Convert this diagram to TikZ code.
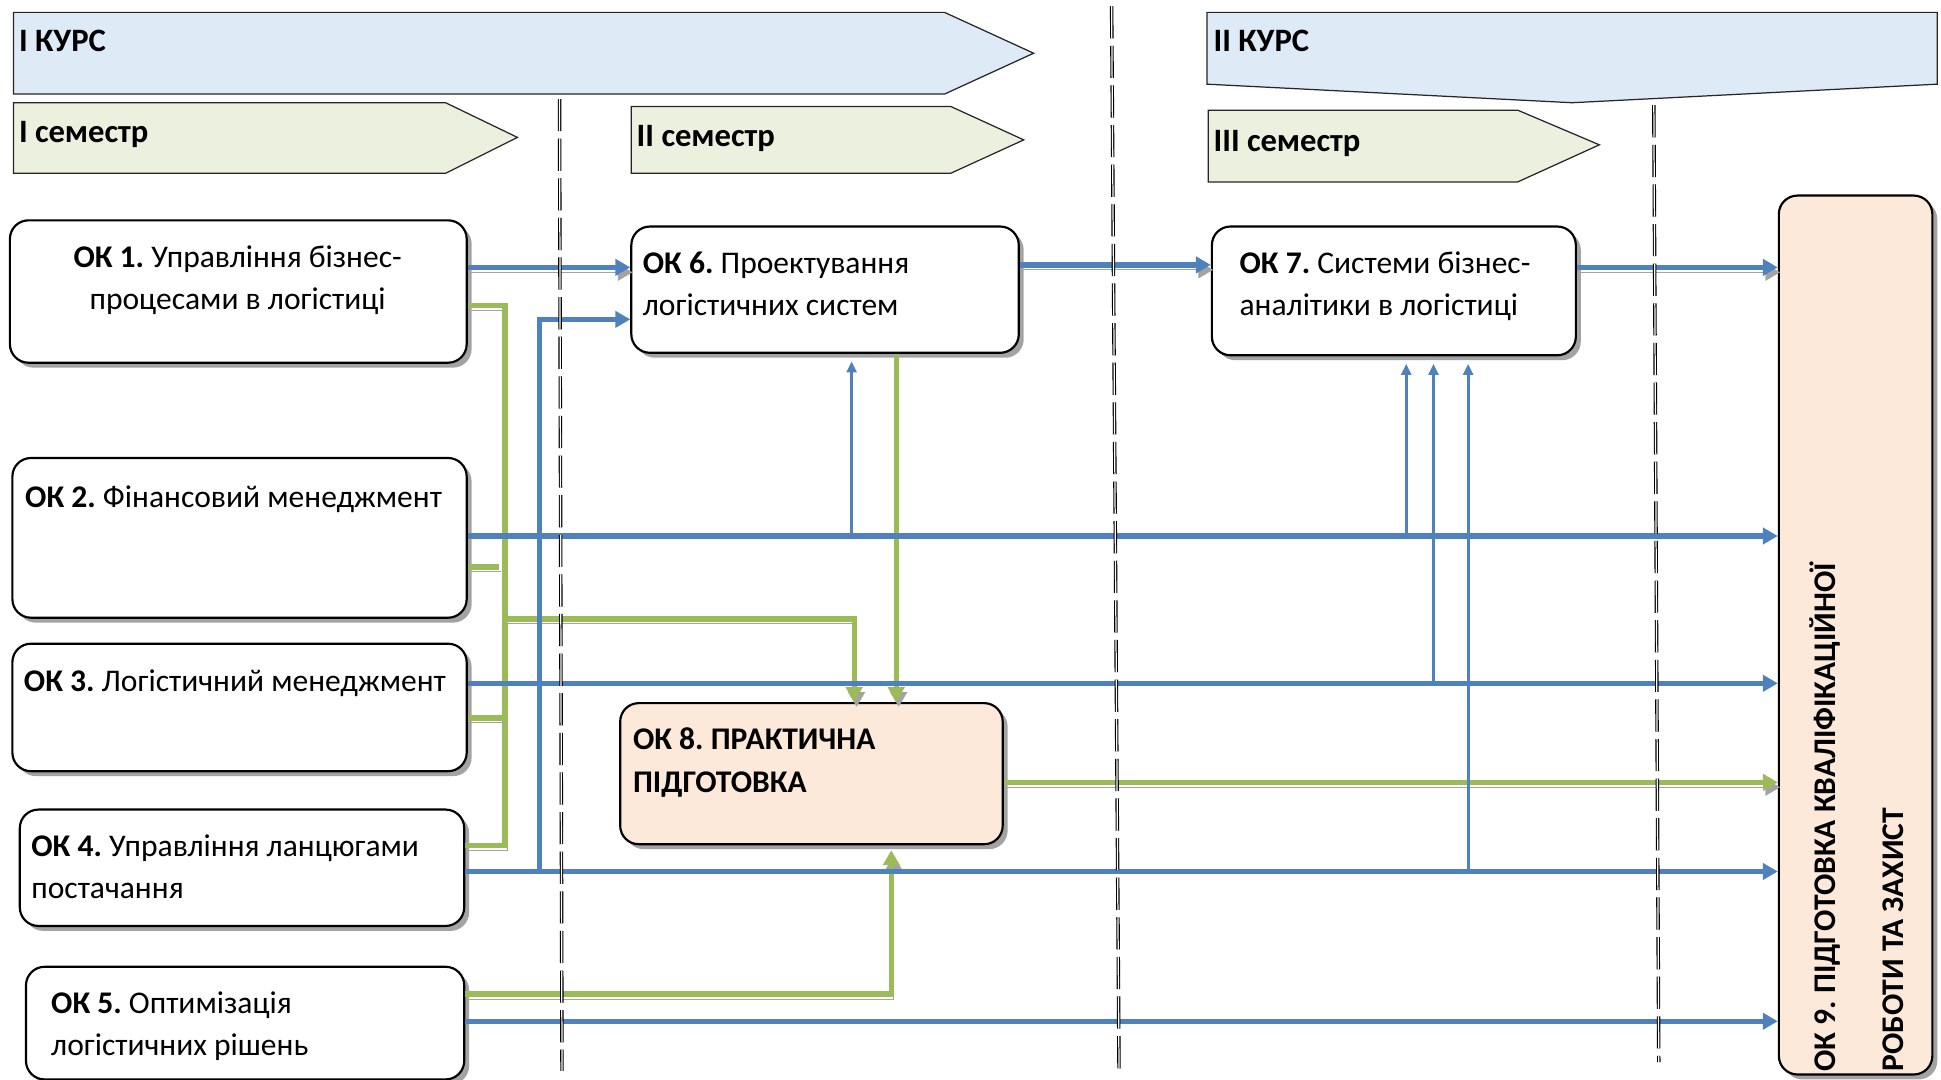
\documentclass[tikz,border=0pt]{standalone}
\usepackage{fontspec}
\setmainfont{Carlito}
\usepackage{tikz}
\usetikzlibrary{positioning, arrows.meta, shadows, fit}

\definecolor{lineblue}{HTML}{4F81BD}
\definecolor{linegreen}{HTML}{9BBB59}
\definecolor{kursfill}{HTML}{DEEAF6}
\definecolor{semfill}{HTML}{EBF1DE}
\definecolor{okfill}{HTML}{FDE9D9}
\definecolor{shadowgray}{HTML}{A3A3A3}

\begin{document}
\frenchspacing
\begin{tikzpicture}[
    x=0.2mm, y=-0.2mm,
    font=\fontsize{14.5}{19.5}\selectfont,
    banner/.style={draw=black!85, line width=0.2mm},
    bannertext/.style={anchor=base west, inner sep=0, font=\fontsize{15}{17}\selectfont\bfseries},
    okbox/.style={draw=black, line width=0.35mm, rounded corners=3mm, fill=white, inner sep=0,
        drop shadow={shadow xshift=0.8mm, shadow yshift=-0.8mm, fill=shadowgray, opacity=1}},
    oktext/.style={anchor=base west, inner sep=0, align=left},
    sepline/.style={draw=black, double=white, double distance=0.2mm, line width=0.18mm,
        dash pattern=on 5.2mm off 1.2mm},
    lineshadow/.style={preaction={draw=shadowgray, transform canvas={xshift=0.4mm, yshift=-0.8mm}}},
    bluemain/.style={lineshadow, draw=lineblue, line width=0.85mm, -{Triangle[length=2.4mm, width=2.6mm]}},
    bluebus/.style={draw=lineblue, line width=0.85mm, -{Triangle[length=2.4mm, width=2.6mm]}},
    bluethin/.style={draw=lineblue, line width=0.45mm, -{Triangle[length=1.8mm, width=1.6mm]}},
    greenmain/.style={lineshadow, draw=linegreen, line width=0.85mm, -{Triangle[length=2.4mm, width=2.6mm]}},
    greenplain/.style={lineshadow, draw=linegreen, line width=0.85mm}
]
    \useasboundingbox (0,0) rectangle (1568,872);

    % Courses and semesters
    \filldraw[banner, fill=kursfill] (11,10) -- (763,10) -- (835,43) -- (763,76) -- (11,76) -- cycle;
    \node[bannertext] (kurs1) at (15,42) {I КУРС};
    \filldraw[banner, fill=kursfill] (975,10) -- (1565,10) -- (1565,68) -- (1270,83) -- (975,68) -- cycle;
    \node[bannertext] (kurs2) at (980,42) {II КУРС};

    \filldraw[banner, fill=semfill] (11,83) -- (360,83) -- (418,111) -- (360,140) -- (11,140) -- cycle;
    \node[bannertext] (sem1) at (15,115) {I семестр};
    \filldraw[banner, fill=semfill] (510,86) -- (768,86) -- (827,113) -- (768,140) -- (510,140) -- cycle;
    \node[bannertext] (sem2) at (514,118) {II семестр};
    \filldraw[banner, fill=semfill] (976,89) -- (1226,89) -- (1292,117) -- (1226,147) -- (976,147) -- cycle;
    \node[bannertext] (sem3) at (980,122) {III семестр};

    % Disciplines
    \node[okbox, fit={(8,178) (377,293)}] (ok1) {};
    \node[okbox, fit={(10,370) (377,499)}] (ok2) {};
    \node[okbox, fit={(10,520) (377,623)}] (ok3) {};
    \node[okbox, fit={(16,654) (375,748)}] (ok4) {};
    \node[okbox, fit={(21,781) (375,872)}] (ok5) {};
    \node[okbox, fit={(510,183) (823,285)}] (ok6) {};
    \node[okbox, fit={(979,183) (1273,287)}] (ok7) {};
    \node[okbox, fill=okfill, fit={(501,568) (810,682)}] (ok8) {};
    \node[okbox, fill=okfill, fit={(1437,158) (1561,868)}] (ok9) {};

    \node[oktext, anchor=base, align=center] (ok1t) at (192,250) {\textbf{ОК 1.} Управління бізнес-\\процесами в логістиці};
    \node[oktext] (ok2t) at (20,410) {\textbf{ОК 2.} Фінансовий менеджмент};
    \node[oktext] (ok3t) at (19,559) {\textbf{ОК 3.} Логістичний менеджмент};
    \node[oktext] (ok4t) at (25,726) {\textbf{ОК 4.} Управління ланцюгами\\постачання};
    \node[oktext] (ok5t) at (41,853) {\textbf{ОК 5.} Оптимізація\\логістичних рішень};
    \node[oktext] (ok6t) at (519,255) {\textbf{ОК 6.} Проектування\\логістичних систем};
    \node[oktext] (ok7t) at (1001,255) {\textbf{ОК 7.} Системи бізнес-\\аналітики в логістиці};
    \node[oktext, font=\fontsize{14.5}{19.5}\selectfont\bfseries] (ok8t) at (511,640) {ОК 8. ПРАКТИЧНА\\ПІДГОТОВКА};
    \node[oktext, rotate=90, font=\fontsize{14.5}{19.5}\selectfont\bfseries] (ok9t) at (1538,866)
        {ОК 9. ПІДГОТОВКА КВАЛІФІКАЦІЙНОЇ\\[11.8pt]РОБОТИ ТА ЗАХИСТ};

    % Junction points
    \coordinate (j4) at (436,704);
    \coordinate (g1) at (408,247);
    \coordinate (g2) at (408,683);
    \coordinate (g3) at (408,500);
    \coordinate (b2a) at (688,433);
    \coordinate (b2b) at (1136,433);
    \coordinate (b3) at (1158,552);
    \coordinate (b4) at (1186,706);

    % Green links
    \draw[greenplain] (ok1.east |- g1) -- (g1) -- (g2) -- (ok4.east |- g2);
    \draw[greenplain] (ok2.east |- 0,458) -- (403,458);
    \draw[greenplain] (ok3.east |- 0,580) -- (408,580);
    \draw[greenmain] (g3) -- (690,500) -- (ok8.north -| 690,0);
    \draw[greenmain] (ok6.south -| 724,0) -- (ok8.north -| 724,0);
    \draw[greenmain, shorten >=0.8mm] (ok5.east |- 0,803) -- (720,803) -- (ok8.south -| 720,0);
    \draw[greenmain] (ok8.east |- 0,632) -- (ok9.west |- 0,632);

    % Blue links
    \draw[bluemain] (ok1.east |- 0,216) -- (ok6.west |- 0,216);
    \draw[bluemain] (ok6.east |- 0,214) -- (ok7.west |- 0,214);
    \draw[bluemain] (ok7.east |- 0,216) -- (ok9.west |- 0,216);
    \draw[bluebus] (ok2.east |- b2a) -- (ok9.west |- b2a);
    \draw[bluebus] (ok3.east |- b3) -- (ok9.west |- b3);
    \draw[bluebus] (ok4.east |- j4) -- (ok9.west |- j4);
    \draw[bluebus] (ok5.east |- 0,825) -- (ok9.west |- 0,825);
    \draw[bluebus] (j4) -- (436,258) -- (ok6.west |- 0,258);
    \draw[bluethin, shorten >=1.2mm] (b2a) -- (ok6.south -| b2a);
    \draw[bluethin, shorten >=1.2mm] (b2b) -- (ok7.south -| b2b);
    \draw[bluethin, shorten >=1.2mm] (b3) -- (ok7.south -| b3);
    \draw[bluethin, shorten >=1.2mm] (b4) -- (ok7.south -| b4);

    % Semester borders
    \draw[sepline] (452,80) -- (454,865);
    \draw[sepline] (898,5) -- (904,868);
    \draw[sepline] (1336,85) -- (1340,858);
\end{tikzpicture}
\end{document}
